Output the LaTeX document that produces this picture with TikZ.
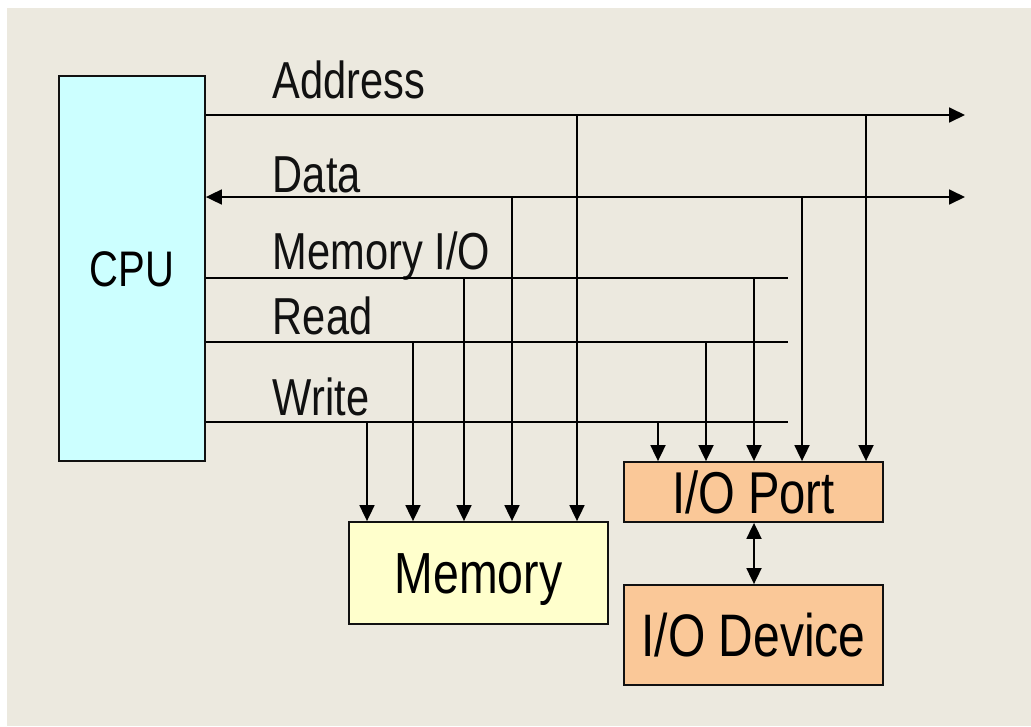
\documentclass[tikz,border=0pt]{standalone}
\usepackage{fontspec}
\setmainfont{Liberation Sans}[FakeStretch=0.8]
\usetikzlibrary{arrows.meta}

\definecolor{pagebg}{HTML}{ECE9DF}
\definecolor{cpufill}{HTML}{CCFFFF}
\definecolor{memfill}{HTML}{FFFFCC}
\definecolor{iofill}{HTML}{FAC898}
\definecolor{ink}{HTML}{111111}

\begin{document}
\begin{tikzpicture}[x=1pt,y=-1pt,
  line width=1.8pt,
  block/.style={draw=ink, inner sep=0pt, text depth=0pt},
  lbl/.style={anchor=base west, inner sep=0pt, font=\fontsize{52}{60}\selectfont, text=ink},
  bus/.style={draw=ink},
  tip/.style={-{Triangle[length=16pt,width=15pt]}},
  both/.style={{Triangle[length=16pt,width=15pt]}-{Triangle[length=16pt,width=15pt]}}
]
% page
\fill[white] (0,0) rectangle (1031,726);
\fill[pagebg] (7,8) rectangle (1031,726);
\useasboundingbox (0,0) rectangle (1031,726);

% blocks
\node[block, fill=cpufill, minimum width=146pt, minimum height=385pt,
      text height=35.8pt, font=\fontsize{50}{60}\selectfont] (cpu) at (132,268.5) {CPU};
\node[block, fill=memfill, minimum width=259pt, minimum height=102pt,
      text height=41.5pt, font=\fontsize{58}{66}\selectfont] (mem) at (478.5,573) {Memory};
\node[block, fill=iofill, minimum width=259pt, minimum height=60pt,
      text height=42.2pt, font=\fontsize{59}{66}\selectfont] (port) at (753.5,492) {I/O Port};
\node[block, fill=iofill, minimum width=259pt, minimum height=100pt,
      text height=43pt, font=\fontsize{60}{66}\selectfont] (dev) at (753.5,635) {I/O Device};

% bus labels
\node[lbl] (lA) at (272,98)  {Address};
\node[lbl] (lD) at (272,192) {Data};
\node[lbl] (lM) at (272,269) {Memory I/O};
\node[lbl] (lR) at (272,334) {Read};
\node[lbl] (lW) at (272,415) {Write};

% bus start points on the CPU and free ends
\coordinate (aS) at (cpu.east |- 0,115);
\coordinate (dS) at (cpu.east |- 0,197);
\coordinate (mS) at (cpu.east |- 0,278);
\coordinate (rS) at (cpu.east |- 0,342);
\coordinate (wS) at (cpu.east |- 0,422);
\coordinate (aE) at (965,115);
\coordinate (dE) at (965,197);
\coordinate (mE) at (788,278);
\coordinate (rE) at (788,342);
\coordinate (wE) at (788,422);

% bus lines
\draw[tip]  (aS) -- (aE);
\draw[both] (dS) -- (dE);
\draw (mS) -- (mE);
\draw (rS) -- (rE);
\draw (wS) -- (wE);

% taps: memory side
\coordinate (wm) at (367,422);
\coordinate (rm) at (413,342);
\coordinate (mm) at (464,278);
\coordinate (dm) at (512,197);
\coordinate (am) at (577,115);
% taps: port side
\coordinate (wp) at (658,422);
\coordinate (rp) at (706,342);
\coordinate (mp) at (754,278);
\coordinate (dp) at (802,197);
\coordinate (ap) at (866,115);

\foreach \t in {wm,rm,mm,dm,am} \draw[tip] (\t) -- (\t |- mem.north);
\foreach \t in {wp,rp,mp,dp,ap} \draw[tip] (\t) -- (\t |- port.north);

% port <-> device
\draw[both] (port.south -| 754,0) -- (dev.north -| 754,0);
\end{tikzpicture}
\end{document}
